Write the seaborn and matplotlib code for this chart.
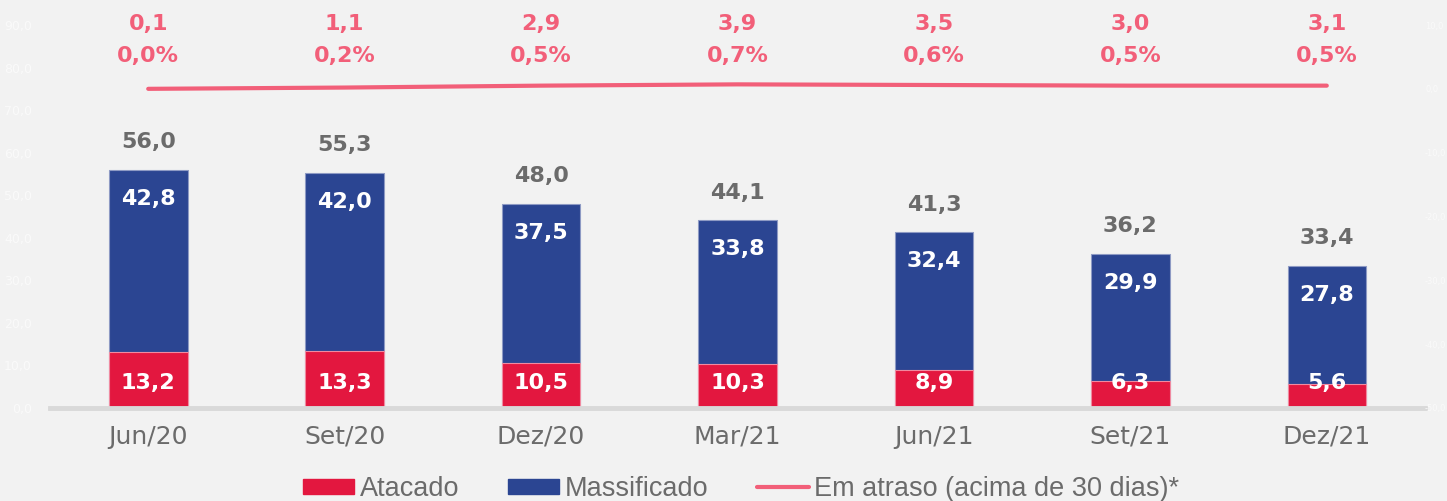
import matplotlib
matplotlib.use("Agg")
import matplotlib.pyplot as plt
import matplotlib.transforms as mtransforms
from matplotlib.patches import Patch
from matplotlib.lines import Line2D
import seaborn as sns
import pandas as pd

# Quarterly portfolio (R$ bi) split by segment, plus overdue balance
periods = ["Jun/20", "Set/20", "Dez/20", "Mar/21", "Jun/21", "Set/21", "Dez/21"]
atacado = [13.2, 13.3, 10.5, 10.3, 8.9, 6.3, 5.6]
massificado = [42.8, 42.0, 37.5, 33.8, 32.4, 29.9, 27.8]
total = [56.0, 55.3, 48.0, 44.1, 41.3, 36.2, 33.4]
atraso_valor = [0.1, 1.1, 2.9, 3.9, 3.5, 3.0, 3.1]
atraso_pct = [0.0, 0.2, 0.5, 0.7, 0.6, 0.5, 0.5]

RED = "#e3173f"
BLUE = "#2b4592"
PINK = "#f25f79"
GREY_TXT = "#6b6b6b"
BG = "#f2f2f2"

def br(v, pct=False):
    s = f"{v:.1f}".replace(".", ",")
    return s + "%" if pct else s

sns.set_theme(style="white")
plt.rcParams["font.family"] = ["DejaVu Sans"]

df = pd.DataFrame({"periodo": periods, "atacado": atacado,
                   "massificado": massificado, "total": total})

fig = plt.figure(figsize=(14.47, 5.01), dpi=100, facecolor=BG)
ax = fig.add_axes([50 / 1447, 93 / 501, 1375 / 1447, 383 / 501])
ax.set_facecolor(BG)

# stacked bars: full height in blue, wholesale segment in red on top of it
sns.barplot(data=df, x="periodo", y="total", color=BLUE, width=0.4,
            saturation=1, edgecolor="#8e9ac4", linewidth=0.8, ax=ax)
sns.barplot(data=df, x="periodo", y="atacado", color=RED, width=0.4,
            saturation=1, edgecolor="#f08aa0", linewidth=0.8, ax=ax)

ax.set_ylim(0, 90)
ax.set_xlim(-0.5, 6.5)
ax.set_yticks(range(0, 91, 10))
ax.set_yticklabels([br(v) for v in range(0, 91, 10)], color="#fafafa", fontsize=9)
ax.tick_params(axis="y", length=0, pad=13)
ax.tick_params(axis="x", length=0, pad=12, labelsize=18, labelcolor=GREY_TXT)
ax.set_xlabel("")
ax.set_ylabel("")
for side in ["top", "left", "right"]:
    ax.spines[side].set_visible(False)
ax.spines["bottom"].set_color("#d9d9d9")
ax.spines["bottom"].set_linewidth(3.5)

for i in range(len(periods)):
    ax.text(i, total[i] + 6.5, br(total[i]), ha="center", va="center",
            fontsize=16, fontweight="bold", color=GREY_TXT)
    ax.text(i, total[i] - 6.8, br(massificado[i]), ha="center", va="center",
            fontsize=16, fontweight="bold", color="white")
    ax.text(i, 5.8, br(atacado[i]), ha="center", va="center",
            fontsize=16, fontweight="bold", color="white")

# overdue line on secondary axis
ax2 = ax.twinx()
ax2.set_ylim(-50, 10)
sns.lineplot(x=list(range(len(periods))), y=atraso_pct, color=PINK,
             linewidth=3, ax=ax2, solid_capstyle="round")
ax2.set_yticks(range(-50, 11, 10))
ax2.set_yticklabels([br(v) for v in range(-50, 11, 10)], color="#fafafa", fontsize=6)
ax2.tick_params(axis="y", length=0, pad=0)
ax2.set_ylabel("")
for side in ["top", "left", "right", "bottom"]:
    ax2.spines[side].set_visible(False)

trans = mtransforms.blended_transform_factory(ax.transData, fig.transFigure)
for i in range(len(periods)):
    ax.text(i, 1 - 24 / 501, br(atraso_valor[i]), transform=trans, ha="center",
            va="center", fontsize=16, fontweight="bold", color=PINK, clip_on=False)
    ax.text(i, 1 - 56 / 501, br(atraso_pct[i], pct=True), transform=trans,
            ha="center", va="center", fontsize=16, fontweight="bold", color=PINK,
            clip_on=False)

handles = [Patch(facecolor=RED, edgecolor=RED),
           Patch(facecolor=BLUE, edgecolor=BLUE),
           Line2D([0], [0], color=PINK, linewidth=3)]
labels = ["Atacado", "Massificado", "Em atraso (acima de 30 dias)*"]
leg = fig.legend(handles, labels, loc="center", bbox_to_anchor=(741 / 1447, 12 / 501),
                 ncol=3, frameon=False, handlelength=1.9, handleheight=0.5,
                 handletextpad=0.2, columnspacing=1.8,
                 prop={"family": ["Liberation Sans", "DejaVu Sans"], "size": 19.5})
for t in leg.get_texts():
    t.set_color(GREY_TXT)

fig.savefig("out.png", dpi=100, facecolor=BG)
